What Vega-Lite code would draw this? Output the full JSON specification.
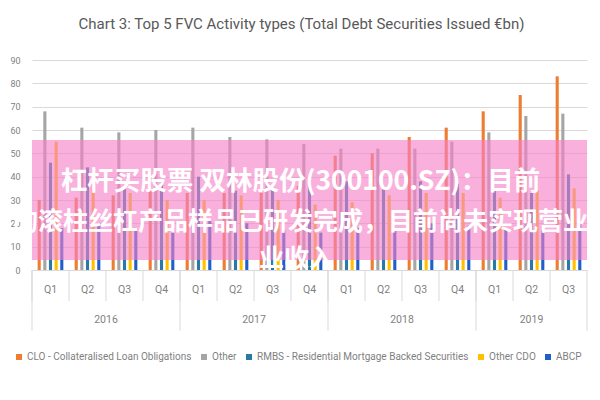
{
  "$schema": "https://vega.github.io/schema/vega-lite/v6.json",
  "width": 555,
  "height": 210,
  "autosize": {"type": "none"},
  "padding": {"left": 32, "top": 60, "right": 13, "bottom": 130},
  "background": "white",
  "config": {
    "view": {"stroke": null},
    "font": "Roboto, sans-serif",
    "axis": {"labelColor": "#7f7f7f", "labelFont": "Roboto, sans-serif", "title": null},
    "axisY": {"grid": true, "gridColor": "#d9d9d9", "tickCount": 10, "domain": false, "ticks": false, "labelPadding": 12, "labelFontSize": 9, "labelFlush": false, "labelOverlap": false},
    "axisX": {"grid": false, "domain": false, "ticks": false, "labelAngle": 0, "labelPadding": 14, "labelFontSize": 10.5},
    "legend": {"labelColor": "#7f7f7f", "labelFont": "Roboto, sans-serif"}
  },
  "title": {
    "text": "Chart 3: Top 5 FVC Activity types (Total Debt Securities Issued €bn)",
    "font": "Roboto, sans-serif",
    "fontSize": 15,
    "fontWeight": "normal",
    "color": "#595959",
    "anchor": "middle",
    "dx": -8,
    "offset": 24
  },
  "datasets": {
    "bars": [
      {"q": "2016 Q1", "CLO - Collateralised Loan Obligations": 30, "Other": 68, "RMBS - Residential Mortgage Backed Securities": 46, "Other CDO": 55, "ABCP": 18},
      {"q": "2016 Q2", "CLO - Collateralised Loan Obligations": 31, "Other": 61, "RMBS - Residential Mortgage Backed Securities": 44, "Other CDO": 37, "ABCP": 20},
      {"q": "2016 Q3", "CLO - Collateralised Loan Obligations": 32, "Other": 59, "RMBS - Residential Mortgage Backed Securities": 35, "Other CDO": 33, "ABCP": 17},
      {"q": "2016 Q4", "CLO - Collateralised Loan Obligations": 34, "Other": 60, "RMBS - Residential Mortgage Backed Securities": 38, "Other CDO": 30, "ABCP": 18},
      {"q": "2017 Q1", "CLO - Collateralised Loan Obligations": 33, "Other": 61, "RMBS - Residential Mortgage Backed Securities": 40, "Other CDO": 30, "ABCP": 21},
      {"q": "2017 Q2", "CLO - Collateralised Loan Obligations": 33, "Other": 57, "RMBS - Residential Mortgage Backed Securities": 34, "Other CDO": 32, "ABCP": 20},
      {"q": "2017 Q3", "CLO - Collateralised Loan Obligations": 33, "Other": 56, "RMBS - Residential Mortgage Backed Securities": 35, "Other CDO": 30, "ABCP": 17},
      {"q": "2017 Q4", "CLO - Collateralised Loan Obligations": 36, "Other": 54, "RMBS - Residential Mortgage Backed Securities": 38, "Other CDO": 28, "ABCP": 16},
      {"q": "2018 Q1", "CLO - Collateralised Loan Obligations": 49, "Other": 52, "RMBS - Residential Mortgage Backed Securities": 38, "Other CDO": 29, "ABCP": 18},
      {"q": "2018 Q2", "CLO - Collateralised Loan Obligations": 50, "Other": 52, "RMBS - Residential Mortgage Backed Securities": 35, "Other CDO": 32, "ABCP": 18},
      {"q": "2018 Q3", "CLO - Collateralised Loan Obligations": 57, "Other": 52, "RMBS - Residential Mortgage Backed Securities": 38, "Other CDO": 33, "ABCP": 20},
      {"q": "2018 Q4", "CLO - Collateralised Loan Obligations": 61, "Other": 55, "RMBS - Residential Mortgage Backed Securities": 37, "Other CDO": 33, "ABCP": 19},
      {"q": "2019 Q1", "CLO - Collateralised Loan Obligations": 68, "Other": 59, "RMBS - Residential Mortgage Backed Securities": 34, "Other CDO": 31, "ABCP": 18},
      {"q": "2019 Q2", "CLO - Collateralised Loan Obligations": 75, "Other": 66, "RMBS - Residential Mortgage Backed Securities": 33, "Other CDO": 34, "ABCP": 17},
      {"q": "2019 Q3", "CLO - Collateralised Loan Obligations": 83, "Other": 67, "RMBS - Residential Mortgage Backed Securities": 41, "Other CDO": 35, "ABCP": 20}
    ],
    "quarters": [
      {"q": "2016 Q1", "yearStart": true}, {"q": "2016 Q2", "yearStart": false}, {"q": "2016 Q3", "yearStart": false}, {"q": "2016 Q4", "yearStart": false},
      {"q": "2017 Q1", "yearStart": true}, {"q": "2017 Q2", "yearStart": false}, {"q": "2017 Q3", "yearStart": false}, {"q": "2017 Q4", "yearStart": false},
      {"q": "2018 Q1", "yearStart": true}, {"q": "2018 Q2", "yearStart": false}, {"q": "2018 Q3", "yearStart": false}, {"q": "2018 Q4", "yearStart": false},
      {"q": "2019 Q1", "yearStart": true}, {"q": "2019 Q2", "yearStart": false}, {"q": "2019 Q3", "yearStart": false}
    ],
    "years": [
      {"year": "2016", "q": "2016 Q3", "full": true},
      {"year": "2017", "q": "2017 Q3", "full": true},
      {"year": "2018", "q": "2018 Q3", "full": true},
      {"year": "2019", "q": "2019 Q2", "full": false}
    ]
  },
  "layer": [
    {
      "data": {"name": "bars"},
      "transform": [
        {"fold": ["CLO - Collateralised Loan Obligations", "Other", "RMBS - Residential Mortgage Backed Securities", "Other CDO", "ABCP"], "as": ["series", "value"]}
      ],
      "mark": {"type": "bar"},
      "encoding": {
        "x": {
          "field": "q",
          "type": "nominal",
          "scale": {
            "domain": ["2016 Q1", "2016 Q2", "2016 Q3", "2016 Q4", "2017 Q1", "2017 Q2", "2017 Q3", "2017 Q4", "2018 Q1", "2018 Q2", "2018 Q3", "2018 Q4", "2019 Q1", "2019 Q2", "2019 Q3"],
            "paddingInner": 0,
            "paddingOuter": 0
          },
          "axis": {"labelExpr": "split(datum.value, ' ')[1]"}
        },
        "xOffset": {
          "field": "series",
          "type": "nominal",
          "scale": {
            "domain": ["CLO - Collateralised Loan Obligations", "Other", "RMBS - Residential Mortgage Backed Securities", "Other CDO", "ABCP"],
            "paddingInner": 0.45,
            "paddingOuter": 1.0
          }
        },
        "y": {
          "field": "value",
          "type": "quantitative",
          "scale": {"domain": [0, 90], "nice": false},
          "axis": {"values": [0, 10, 20, 30, 40, 50, 60, 70, 80, 90], "grid": true}
        },
        "color": {
          "field": "series",
          "type": "nominal",
          "scale": {
            "domain": ["CLO - Collateralised Loan Obligations", "Other", "RMBS - Residential Mortgage Backed Securities", "Other CDO", "ABCP"],
            "range": ["#ED7D31", "#A5A5A5", "#2878A8", "#FFC000", "#1F5FC8"]
          },
          "legend": {
            "title": null,
            "orient": "none",
            "direction": "horizontal",
            "columns": 5,
            "legendX": -18,
            "legendY": 292,
            "symbolType": "square",
            "symbolSize": 36,
            "symbolStrokeWidth": 0,
            "labelFontSize": 10,
            "labelLimit": 0,
            "labelOffset": 3,
            "columnPadding": 7,
            "padding": 0
          }
        }
      }
    },
    {
      "data": {"values": [{}]},
      "mark": {"type": "rect", "color": "#F57FC8", "opacity": 0.62},
      "encoding": {
        "y": {"datum": 55.7},
        "y2": {"datum": 4.3}
      }
    },
    {
      "data": {"values": [{}]},
      "mark": {"type": "text", "text": "杠杆买股票 双林股份(300100.SZ)：目前", "font": "Noto Sans CJK SC", "fontSize": 26.5, "fontWeight": "bold", "color": "white", "baseline": "middle", "align": "center", "dx": -9},
      "encoding": {"y": {"datum": 37.7}}
    },
    {
      "data": {"values": [{}]},
      "mark": {"type": "text", "text": "的滚柱丝杠产品样品已研发完成，目前尚未实现营业", "font": "Noto Sans CJK SC", "fontSize": 25, "fontWeight": "bold", "color": "white", "baseline": "middle", "align": "center", "dx": -9},
      "encoding": {"y": {"datum": 20.6}}
    },
    {
      "data": {"values": [{}]},
      "mark": {"type": "text", "text": "业收入", "font": "Noto Sans CJK SC", "fontSize": 25, "fontWeight": "bold", "color": "white", "baseline": "middle", "align": "center", "dx": -13},
      "encoding": {"y": {"datum": 4.8}}
    },
    {
      "data": {"name": "quarters"},
      "mark": {"type": "rule", "color": "#d9d9d9", "strokeWidth": 1},
      "encoding": {
        "x": {"field": "q", "type": "nominal", "bandPosition": 0, "axis": {"labelExpr": "split(datum.value, ' ')[1]"}},
        "y": {"datum": 0},
        "y2": {"datum": -13.3}
      }
    },
    {
      "data": {"name": "quarters"},
      "transform": [{"filter": "datum.yearStart"}],
      "mark": {"type": "rule", "color": "#d9d9d9", "strokeWidth": 1},
      "encoding": {
        "x": {"field": "q", "type": "nominal", "bandPosition": 0, "axis": {"labelExpr": "split(datum.value, ' ')[1]"}},
        "y": {"datum": 0},
        "y2": {"datum": -26}
      }
    },
    {
      "data": {"name": "quarters"},
      "transform": [{"filter": "datum.q == '2019 Q3'"}],
      "mark": {"type": "rule", "color": "#d9d9d9", "strokeWidth": 1},
      "encoding": {
        "x": {"field": "q", "type": "nominal", "bandPosition": 1, "axis": {"labelExpr": "split(datum.value, ' ')[1]"}},
        "y": {"datum": 0},
        "y2": {"datum": -26}
      }
    },
    {
      "data": {"name": "years"},
      "transform": [{"filter": "datum.full"}],
      "mark": {"type": "text", "fontSize": 10.5, "color": "#7f7f7f", "baseline": "middle", "align": "center"},
      "encoding": {
        "x": {"field": "q", "type": "nominal", "bandPosition": 0, "axis": {"labelExpr": "split(datum.value, ' ')[1]"}},
        "y": {"datum": -21.4},
        "text": {"field": "year"}
      }
    },
    {
      "data": {"name": "years"},
      "transform": [{"filter": "!datum.full"}],
      "mark": {"type": "text", "fontSize": 10.5, "color": "#7f7f7f", "baseline": "middle", "align": "center"},
      "encoding": {
        "x": {"field": "q", "type": "nominal", "bandPosition": 0.5, "axis": {"labelExpr": "split(datum.value, ' ')[1]"}},
        "y": {"datum": -21.4},
        "text": {"field": "year"}
      }
    }
  ]
}
